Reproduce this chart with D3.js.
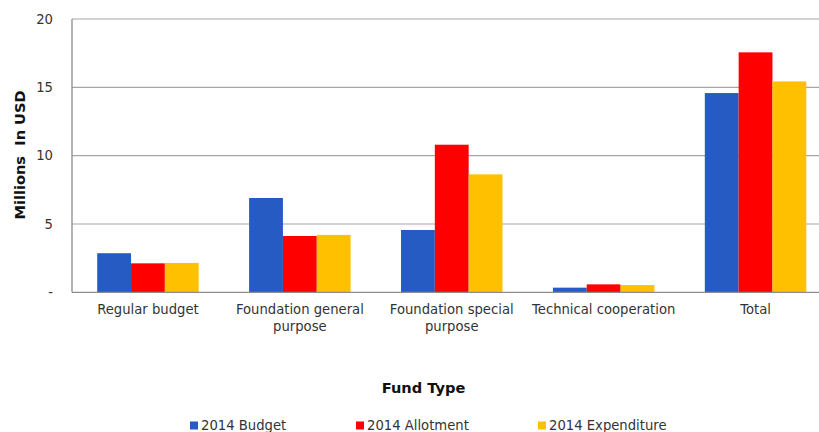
<!DOCTYPE html>
<html>
<head>
<meta charset="utf-8">
<script src="https://cdn.jsdelivr.net/npm/d3@7"></script>
<style>
  html, body { margin: 0; padding: 0; background: #fff; }
  svg { display: block; font-family: "DejaVu Sans", Verdana, sans-serif; }
</style>
</head>
<body>
<svg id="chart" width="819" height="432"></svg>
<script>
// Fund types along the x axis (each may wrap onto two lines)
const categories = [
  ["Regular budget"],
  ["Foundation general", "purpose"],
  ["Foundation special", "purpose"],
  ["Technical cooperation"],
  ["Total"]
];
const seriesNames = ["2014 Budget", "2014 Allotment", "2014 Expenditure"];
const seriesColors = ["#255bc2", "#ff0000", "#ffc000"];

// Millions of USD per fund type
const budget      = [2.86, 6.9, 4.56, 0.34, 14.58];
const allotment   = [2.12, 4.12, 10.8, 0.58, 17.56];
const expenditure = [2.15, 4.2, 8.63, 0.53, 15.43];

const yTicks = [0, 5, 10, 15, 20];
const yTickLabels = ["-", "5", "10", "15", "20"];

const series = [budget, allotment, expenditure];

const svg = d3.select("#chart");
const W = 819;
const margin = { left: 72, top: 19, bottom: 292.3 };
const plotRight = 831.5;
const labelSize = 13.2;

const x0 = d3.scaleBand()
  .domain(d3.range(categories.length))
  .range([margin.left, plotRight])
  .paddingInner(0.332)
  .paddingOuter(0.166);

const x1 = d3.scaleBand()
  .domain(d3.range(series.length))
  .range([0, x0.bandwidth()]);

const y = d3.scaleLinear().domain([0, 20]).range([margin.bottom, margin.top]);

// Horizontal gridlines
svg.append("g")
  .selectAll("line")
  .data(yTicks.filter(t => t > 0))
  .join("line")
  .attr("x1", margin.left)
  .attr("x2", W)
  .attr("y1", d => y(d))
  .attr("y2", d => y(d))
  .attr("stroke", "#a6a6a6")
  .attr("stroke-width", 1.2);

// Bars
const groups = svg.append("g")
  .selectAll("g")
  .data(categories.map((c, i) => i))
  .join("g")
  .attr("transform", i => `translate(${x0(i)},0)`);

groups.selectAll("rect")
  .data(i => series.map((s, k) => ({ k, v: s[i] })))
  .join("rect")
  .attr("x", d => x1(d.k))
  .attr("width", x1.bandwidth())
  .attr("y", d => y(d.v))
  .attr("height", d => y(0) - y(d.v))
  .attr("fill", d => seriesColors[d.k]);

// Axis lines
svg.append("line")
  .attr("x1", margin.left).attr("x2", margin.left)
  .attr("y1", margin.top).attr("y2", margin.bottom)
  .attr("stroke", "#8c8c8c").attr("stroke-width", 1.3);
svg.append("line")
  .attr("x1", margin.left).attr("x2", W)
  .attr("y1", margin.bottom).attr("y2", margin.bottom)
  .attr("stroke", "#8c8c8c").attr("stroke-width", 1.3);

// Y tick labels
svg.append("g")
  .selectAll("text")
  .data(yTicks)
  .join("text")
  .attr("x", 53)
  .attr("y", d => y(d))
  .attr("dy", "0.35em")
  .attr("text-anchor", "end")
  .attr("font-size", labelSize)
  .attr("fill", "#333")
  .text((d, i) => yTickLabels[i]);

// Category labels
const catLabels = svg.append("g")
  .selectAll("text")
  .data(categories)
  .join("text")
  .attr("x", (d, i) => x0(i) + x0.bandwidth() / 2)
  .attr("y", 314)
  .attr("text-anchor", "middle")
  .attr("font-size", labelSize)
  .attr("fill", "#333");
catLabels.selectAll("tspan")
  .data(d => d)
  .join("tspan")
  .attr("x", function () { return this.parentNode.getAttribute("x"); })
  .attr("dy", (d, j) => j === 0 ? 0 : 17)
  .text(d => d);

// Axis titles
svg.append("text")
  .attr("transform", "translate(25,155) rotate(-90)")
  .attr("text-anchor", "middle")
  .attr("font-size", 14.6)
  .attr("font-weight", "bold")
  .attr("fill", "#111")
  .attr("xml:space", "preserve")
  .text("Millions  In USD");

svg.append("text")
  .attr("x", 423.5)
  .attr("y", 393)
  .attr("text-anchor", "middle")
  .attr("font-size", 14.6)
  .attr("font-weight", "bold")
  .attr("fill", "#111")
  .text("Fund Type");

// Legend
const legendX = [190, 356, 538];
const legend = svg.append("g")
  .selectAll("g")
  .data(seriesNames)
  .join("g")
  .attr("transform", (d, i) => `translate(${legendX[i]},421.5)`);
legend.append("rect")
  .attr("width", 8).attr("height", 8)
  .attr("fill", (d, i) => seriesColors[i]);
legend.append("text")
  .attr("x", 11)
  .attr("y", 8.5)
  .attr("font-size", labelSize)
  .attr("fill", "#333")
  .text(d => d);
</script>
</body>
</html>
